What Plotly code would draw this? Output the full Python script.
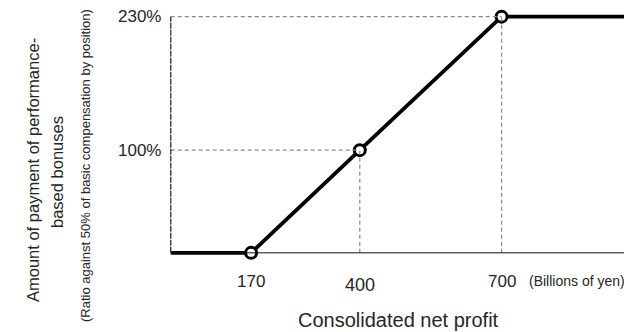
import plotly.graph_objects as go

# Data
profit = [0, 170, 400, 700, 1000]          # consolidated net profit (billions of yen)
payment = [0, 0, 100, 230, 230]            # payment ratio (%)
marker_profit = [170, 400, 700]
marker_payment = [0, 100, 230]
x_tick_vals = [170, 400, 700]
x_tick_text = ["170", "400", "700"]
y_tick_vals = [100, 230]
y_tick_text = ["100%", "230%"]

FONT = "Liberation Sans, Arial, Helvetica, sans-serif"
NARROW = "Liberation Sans Narrow, " + FONT

# pixel geometry helpers
L, T, W, H = 166, 10, 458, 249


def px_to_paper_x(px):
    return (px - L) / W


def py_to_paper_y(py):
    return (T + H - py) / H


fig = go.Figure()

shapes = []
for xv, yv in [(400, 100), (700, 230)]:
    shapes.append(dict(type="line", xref="x", yref="y", x0=xv, x1=xv, y0=0, y1=yv,
                       line=dict(color="#8a8a8a", width=1.2, dash="4px,3px")))
    shapes.append(dict(type="line", xref="x", yref="y", x0=0, x1=xv, y0=yv, y1=yv,
                       line=dict(color="#8a8a8a", width=1.2, dash="4px,3px")))
shapes.append(dict(type="line", xref="x", yref="y", x0=0, x1=0, y0=0, y1=230,
                   line=dict(color="#444444", width=1.5, dash="6px,1px")))
shapes.append(dict(type="line", xref="x", yref="y", x0=0, x1=1000, y0=0, y1=0,
                   line=dict(color="#111111", width=1)))
fig.update_layout(shapes=shapes)

fig.add_trace(go.Scatter(x=profit, y=payment, mode="lines",
                         line=dict(color="black", width=3.8), hoverinfo="skip"))
fig.add_trace(go.Scatter(x=marker_profit, y=marker_payment, mode="markers",
                         marker=dict(size=11, color="white", line=dict(color="black", width=3)),
                         cliponaxis=False, hoverinfo="skip"))

TXT = "#262626"
sizes = {"170": 17, "400": 18, "700": 17}
centers = {"170": 281, "400": 285, "700": 281}
for v, t in zip(x_tick_vals, x_tick_text):
    fig.add_annotation(x=v, y=py_to_paper_y(centers[t]), xref="x", yref="paper", text=t,
                       showarrow=False, yanchor="middle", xanchor="center",
                       font=dict(family=FONT, size=sizes[t], color=TXT))
fig.add_annotation(x=px_to_paper_x(527), y=py_to_paper_y(281), xref="paper", yref="paper",
                   text="(Billions of yen)", showarrow=False, xanchor="left", yanchor="middle",
                   font=dict(family=NARROW, size=14, color=TXT))
for v, t in zip(y_tick_vals, y_tick_text):
    fig.add_annotation(x=0, y=v, xref="x", yref="y", text=t, showarrow=False,
                       xanchor="right", xshift=-8, font=dict(family=FONT, size=17, color=TXT))
fig.add_annotation(x=px_to_paper_x(398), y=py_to_paper_y(320), xref="paper", yref="paper",
                   text="Consolidated net profit", showarrow=False, yanchor="middle", xanchor="center",
                   font=dict(family=FONT, size=20, color=TXT))

for txt, xp, yp, size, fam in [
    ("Amount of payment of performance-", 33, 170, 16.5, FONT),
    ("based bonuses", 57, 172, 16.5, FONT),
    ("(Ratio against 50% of basic compensation by position)", 85, 166, 13, NARROW),
]:
    fig.add_annotation(x=px_to_paper_x(xp), y=py_to_paper_y(yp), xref="paper", yref="paper",
                       text=txt, textangle=-90, showarrow=False, xanchor="center", yanchor="middle",
                       font=dict(family=fam, size=size, color=TXT))

fig.update_xaxes(range=[-10, 959], visible=False, showgrid=False, zeroline=False)
fig.update_yaxes(range=[-6, 236.5], visible=False, showgrid=False, zeroline=False)
fig.update_layout(width=624, height=332, margin=dict(l=L, r=0, t=T, b=332 - T - H),
                  plot_bgcolor="white", paper_bgcolor="white", showlegend=False)

fig.write_html("out.html", config={"displayModeBar": False},
               post_script="document.body.style.margin='0';")
